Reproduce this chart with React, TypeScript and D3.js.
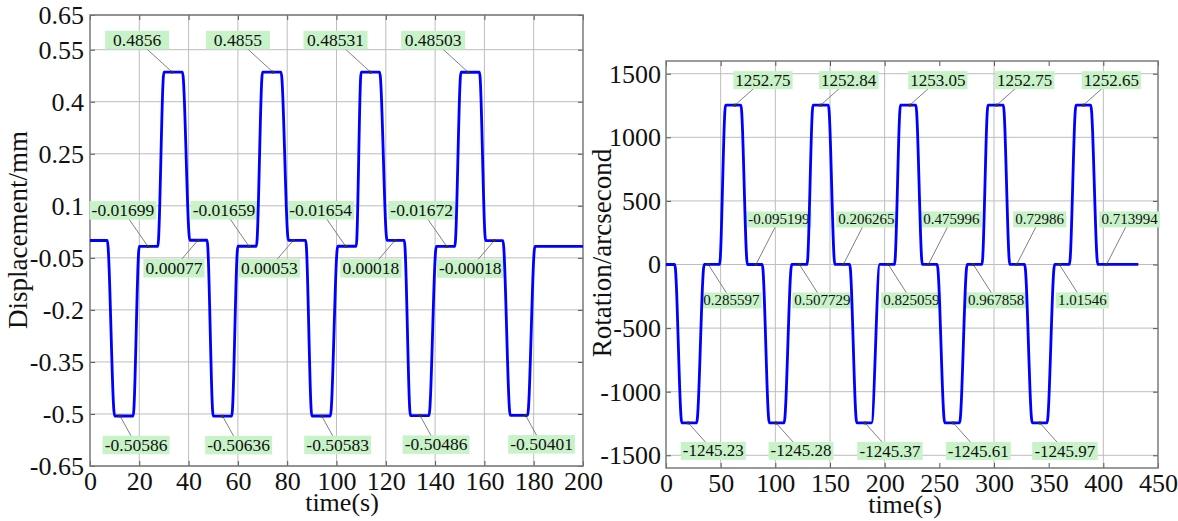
import React, { useEffect, useRef } from "react";
import * as d3 from "d3";

// ---- left panel: displacement ----
const dispTime = [
  0, 7, 10, 17.5, 20, 27.5, 30, 37.5, 40.5, 47.5,
  50, 57.5, 60, 67.5, 70, 77.5, 80.5, 87.5,
  90, 97.5, 100.5, 108, 110, 117.5, 120.5, 127.5,
  130, 137.5, 140.5, 148, 150.5, 158, 160.5, 167.5,
  170.5, 177.5, 180.5, 200,
];
const dispValue = [
  0, 0, -0.50586, -0.50586, -0.01699, -0.01699, 0.4856, 0.4856, 0.00077, 0.00077,
  -0.50636, -0.50636, -0.01659, -0.01659, 0.4855, 0.4855, 0.00053, 0.00053,
  -0.50583, -0.50583, -0.01654, -0.01654, 0.48531, 0.48531, 0.00018, 0.00018,
  -0.50486, -0.50486, -0.01672, -0.01672, 0.48503, 0.48503, -0.00018, -0.00018,
  -0.50401, -0.50401, -0.017, -0.017,
];
const dispTicksX = [0, 20, 40, 60, 80, 100, 120, 140, 160, 180, 200];
const dispTicksY = [0.65, 0.55, 0.4, 0.25, 0.1, -0.05, -0.2, -0.35, -0.5, -0.65];
const dispGridX = [20, 40, 60, 80, 100, 120, 140, 160, 180];

const dispPeakTime = [33.3, 74.2, 113.8, 153.4];
const dispPeakText = ["0.4856", "0.4855", "0.48531", "0.48503"];
const dispUpperTime = [23.5, 64.5, 103.7, 144.7];
const dispUpperText = ["-0.01699", "-0.01659", "-0.01654", "-0.01672"];
const dispLowerTime = [43.8, 82.5, 123.7, 164];
const dispLowerText = ["0.00077", "0.00053", "0.00018", "-0.00018"];
const dispBottomTime = [12.2, 53.8, 94, 133.9, 176.7];
const dispBottomText = ["-0.50586", "-0.50636", "-0.50583", "-0.50486", "-0.50401"];

// ---- right panel: rotation ----
const rotTime = [
  0, 8, 14.5, 28, 35, 49, 54.5, 68.5, 74.5, 88,
  94.5, 108, 115, 129, 134.5, 148.5, 154.5, 168,
  174.5, 188, 195.5, 209, 214.5, 228.5, 234.5, 248,
  255, 268.5, 275.5, 289, 294.5, 308.5, 314.5, 328,
  335, 348.5, 355.5, 369, 375, 388.5, 395, 432,
];
const rotValue = [
  0, 0, -1245.23, -1245.23, 0.285597, 0.285597, 1252.75, 1252.75, -0.095199, -0.095199,
  -1245.28, -1245.28, 0.507729, 0.507729, 1252.84, 1252.84, 0.206265, 0.206265,
  -1245.37, -1245.37, 0.825059, 0.825059, 1253.05, 1253.05, 0.475996, 0.475996,
  -1245.61, -1245.61, 0.967858, 0.967858, 1252.75, 1252.75, 0.72986, 0.72986,
  -1245.97, -1245.97, 1.01546, 1.01546, 1252.65, 1252.65, 0.713994, 0.713994,
];
const rotTicksX = [0, 50, 100, 150, 200, 250, 300, 350, 400, 450];
const rotTicksY = [1500, 1000, 500, 0, -500, -1000, -1500];
const rotGridX = [50, 100, 150, 200, 300, 400];

const rotPeakTime = [63.1, 141.5, 223, 302.5, 381.7];
const rotPeakText = ["1252.75", "1252.84", "1253.05", "1252.75", "1252.65"];
const rotUpperTime = [82.3, 162.2, 240, 320.8, 403];
const rotUpperText = ["-0.095199", "0.206265", "0.475996", "0.72986", "0.713994"];
const rotLowerTime = [38.7, 122, 203.3, 281, 359.7];
const rotLowerText = ["0.285597", "0.507729", "0.825059", "0.967858", "1.01546"];
const rotBottomTime = [20.4, 100.6, 182, 262.8, 342];
const rotBottomText = ["-1245.23", "-1245.28", "-1245.37", "-1245.61", "-1245.97"];

const FONT = "'Liberation Serif', 'Times New Roman', serif";
const WIDTH = 1178;
const HEIGHT = 521;

const panels = [
  {
    box: { left: 90, right: 583, top: 15, bottom: 466 },
    xDomain: [0, 200],
    yDomain: [-0.65, 0.65],
    time: dispTime,
    value: dispValue,
    ticksX: dispTicksX,
    ticksY: dispTicksY,
    gridX: dispGridX,
    yPad: 6,
    yTitle: "Displacement/mm",
    yTitlePos: [27, 230],
    xTitlePos: [342, 511],
    labels: [
      { time: dispPeakTime, text: dispPeakText, dx: -35, dy: -32, size: 17.5, minW: 64 },
      { time: dispUpperTime, text: dispUpperText, dx: -25, dy: -36, size: 17.5, minW: 0 },
      { time: dispLowerTime, text: dispLowerText, dx: -24, dy: 28, size: 17.5, minW: 0 },
      { time: dispBottomTime, text: dispBottomText, dx: 16, dy: 29, size: 17.5, minW: 0 },
    ],
  },
  {
    box: { left: 666, right: 1158, top: 61, bottom: 468 },
    xDomain: [0, 450],
    yDomain: [-1600, 1600],
    time: rotTime,
    value: rotValue,
    ticksX: rotTicksX,
    ticksY: rotTicksY,
    gridX: rotGridX,
    yPad: 5,
    yTitle: "Rotation/arcsecond",
    yTitlePos: [611, 253],
    xTitlePos: [905, 513],
    labels: [
      { time: rotPeakTime, text: rotPeakText, dx: 28, dy: -25, size: 17, minW: 0 },
      { time: rotUpperTime, text: rotUpperText, dx: 23, dy: -45, size: 15, minW: 0 },
      { time: rotLowerTime, text: rotLowerText, dx: 23, dy: 36, size: 15, minW: 0 },
      { time: rotBottomTime, text: rotBottomText, dx: 25, dy: 28, size: 17, minW: 0 },
    ],
  },
];

const drawPanel = (svg, p) => {
  const { left, right, top, bottom } = p.box;
  const x = d3.scaleLinear().domain(p.xDomain).range([left, right]);
  const y = d3.scaleLinear().domain(p.yDomain).range([bottom, top]);
  const g = svg.append("g").attr("font-family", FONT);

  // grid lines
  g.append("g")
    .selectAll("line")
    .data(p.gridX)
    .join("line")
    .attr("x1", (d) => x(d))
    .attr("x2", (d) => x(d))
    .attr("y1", top)
    .attr("y2", bottom)
    .attr("stroke", "#bdbdbd")
    .attr("stroke-width", 1);
  g.append("g")
    .selectAll("line")
    .data(p.ticksY)
    .join("line")
    .attr("x1", left)
    .attr("x2", right)
    .attr("y1", (d) => y(d))
    .attr("y2", (d) => y(d))
    .attr("stroke", "#bdbdbd")
    .attr("stroke-width", 1);

  // axes, ticks pointing inward
  const styleAxis = (sel) => {
    sel.select(".domain").remove();
    sel.selectAll(".tick line").attr("stroke", "#555");
    sel.attr("font-family", FONT).attr("font-size", 26);
    sel.selectAll(".tick text").attr("fill", "#111");
  };
  g.append("g")
    .attr("transform", `translate(0,${bottom})`)
    .call(d3.axisBottom(x).tickValues(p.ticksX).tickSize(-5).tickPadding(6).tickFormat((d) => String(d)))
    .call(styleAxis)
    .selectAll(".tick text")
    .attr("dy", "0.71em");
  g.append("g")
    .attr("transform", `translate(0,${top})`)
    .call(d3.axisTop(x).tickValues(p.ticksX).tickSize(-5).tickFormat(() => ""))
    .call(styleAxis);
  g.append("g")
    .attr("transform", `translate(${left},0)`)
    .call(d3.axisLeft(y).tickValues(p.ticksY).tickSize(-5).tickPadding(p.yPad).tickFormat((d) => String(d)))
    .call(styleAxis);
  g.append("g")
    .attr("transform", `translate(${right},0)`)
    .call(d3.axisRight(y).tickValues(p.ticksY).tickSize(-5).tickFormat(() => ""))
    .call(styleAxis);

  // frame
  g.append("rect")
    .attr("x", left)
    .attr("y", top)
    .attr("width", right - left)
    .attr("height", bottom - top)
    .attr("fill", "none")
    .attr("stroke", "#7a7a7a")
    .attr("stroke-width", 1.5);

  // data labels (leader line + green box)
  const anchors = [];
  p.labels.forEach((grp) => {
    grp.time.forEach((t, i) => {
      const txt = grp.text[i];
      const ax = x(t);
      const ay = y(parseFloat(txt));
      const cx = ax + grp.dx;
      const cy = ay + grp.dy;
      anchors.push([ax, ay]);
      g.append("line")
        .attr("x1", ax)
        .attr("y1", ay)
        .attr("x2", cx)
        .attr("y2", cy)
        .attr("stroke", "#808080")
        .attr("stroke-width", 1);
      const rect = g.append("rect").attr("fill", "#c8f2c8");
      const label = g
        .append("text")
        .attr("x", cx)
        .attr("y", cy)
        .attr("text-anchor", "middle")
        .attr("dy", "0.33em")
        .attr("font-size", grp.size)
        .attr("fill", "#111")
        .text(txt);
      const bb = label.node().getBBox();
      const w = Math.max(bb.width + 4, grp.minW);
      const h = grp.size + 1;
      rect
        .attr("x", cx - w / 2)
        .attr("y", cy - h / 2)
        .attr("width", w)
        .attr("height", h);
    });
  });

  // signal
  const line = d3
    .line()
    .x((d) => x(d[0]))
    .y((d) => y(d[1]))
    .curve(d3.curveMonotoneX);
  g.append("path")
    .datum(p.time.map((t, i) => [t, p.value[i]]))
    .attr("fill", "none")
    .attr("stroke", "#0000ff")
    .attr("stroke-width", 2.8)
    .attr("stroke-linejoin", "round")
    .attr("d", line);

  g.append("g")
    .selectAll("circle")
    .data(anchors)
    .join("circle")
    .attr("cx", (d) => d[0])
    .attr("cy", (d) => d[1])
    .attr("r", 1.6)
    .attr("fill", "#333");

  // axis titles
  g.append("text")
    .attr("transform", `translate(${p.yTitlePos[0]},${p.yTitlePos[1]}) rotate(-90)`)
    .attr("text-anchor", "middle")
    .attr("font-size", 27)
    .attr("fill", "#111")
    .text(p.yTitle);
  g.append("text")
    .attr("x", p.xTitlePos[0])
    .attr("y", p.xTitlePos[1])
    .attr("text-anchor", "middle")
    .attr("font-size", 26)
    .attr("fill", "#111")
    .text("time(s)");
};

const App = () => {
  const svgRef = useRef(null);

  useEffect(() => {
    if (!svgRef.current) return;
    const svg = d3.select(svgRef.current);
    svg.selectAll("*").remove();
    svg.append("rect").attr("width", WIDTH).attr("height", HEIGHT).attr("fill", "#fff");
    panels.forEach((p) => drawPanel(svg, p));
  }, []);

  return (
    <svg
      ref={svgRef}
      width={WIDTH}
      height={HEIGHT}
      style={{ position: "absolute", left: 0, top: 0, display: "block" }}
    />
  );
};

export default App;
